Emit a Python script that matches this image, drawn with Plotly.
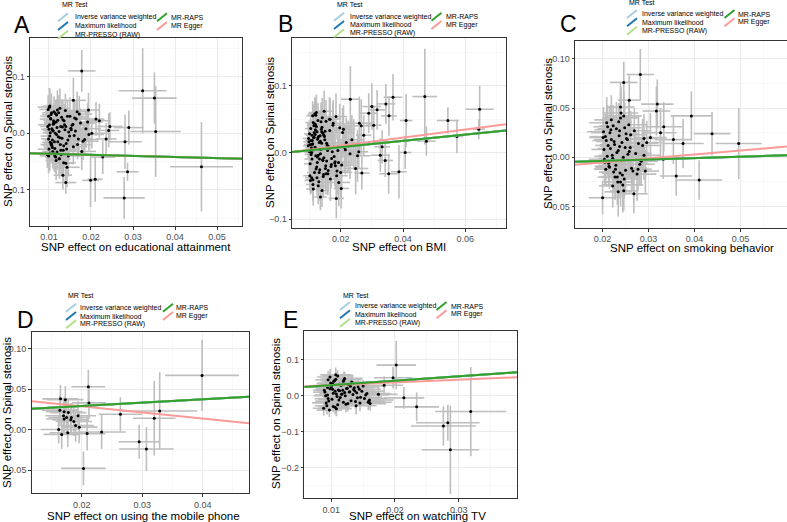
import plotly.graph_objects as go

W, H = 787, 522
FONT = "Liberation Sans, Arial, sans-serif"

# ---------------- data ----------------
# Panel A: educational attainment
a_x = [0.0178, 0.0323, 0.0351, 0.0354, 0.0290, 0.0281, 0.0287, 0.0279, 0.0463, 0.0245,
       0.0140, 0.0133, 0.0199, 0.0210, 0.0158, 0.0167, 0.0194, 0.0140, 0.0102, 0.0228,
       0.0242, 0.0236, 0.0220, 0.0212,
       0.0097, 0.0102, 0.0099, 0.0105, 0.0110, 0.0101, 0.0108, 0.0113, 0.0096, 0.0104,
       0.0118, 0.0107, 0.0100, 0.0115, 0.0121, 0.0103, 0.0111, 0.0126, 0.0098, 0.0109,
       0.0119, 0.0130, 0.0106, 0.0114, 0.0101, 0.0124, 0.0135, 0.0112, 0.0099, 0.0117,
       0.0128, 0.0105, 0.0140, 0.0122, 0.0108, 0.0133, 0.0115, 0.0102, 0.0145, 0.0120,
       0.0110, 0.0127, 0.0138, 0.0104, 0.0116, 0.0150, 0.0131, 0.0109, 0.0123, 0.0142,
       0.0155, 0.0113, 0.0136, 0.0100, 0.0119, 0.0147, 0.0126, 0.0160, 0.0107, 0.0132,
       0.0165, 0.0118, 0.0141, 0.0152, 0.0111, 0.0129, 0.0170, 0.0137, 0.0103, 0.0158,
       0.0175, 0.0125, 0.0144, 0.0114, 0.0163, 0.0181, 0.0134, 0.0121, 0.0149, 0.0188,
       0.0106, 0.0168, 0.0139, 0.0195, 0.0117, 0.0157, 0.0128, 0.0178, 0.0146, 0.0202,
       0.0112, 0.0172, 0.0185, 0.0135, 0.0161, 0.0099, 0.0192, 0.0124, 0.0153, 0.0143]
a_y = [0.110, 0.075, 0.062, 0.003, 0.010, -0.015, -0.068, -0.114, -0.059, 0.012,
       -0.087, -0.074, -0.083, -0.081, 0.058, 0.038, 0.041, -0.053, 0.048, -0.042,
       0.005, -0.010, 0.022, 0.025,
       0.012, -0.005, 0.030, -0.020, 0.004, 0.046, -0.012, 0.018, -0.038, 0.025,
       -0.002, 0.008, -0.028, 0.035, -0.015, 0.001, 0.022, -0.008, 0.042, -0.032,
       0.010, 0.028, -0.018, -0.040, 0.015, 0.003, -0.022, 0.038, -0.010, 0.020,
       -0.030, 0.033, 0.012, -0.006, -0.025, 0.024, 0.000, -0.035, -0.012, 0.041,
       0.016, -0.020, 0.006, 0.026, -0.042, 0.030, -0.009, 0.005, 0.036, -0.028,
       0.014, -0.015, 0.022, 0.007, -0.033, 0.002, 0.044, -0.004, -0.022, 0.011,
       0.025, 0.032, -0.018, 0.009, 0.019, -0.038, -0.010, 0.015, -0.016, -0.024,
       0.018, -0.045, 0.030, -0.027, 0.004, -0.014, -0.030, 0.023, -0.005, 0.008,
       0.036, -0.020, 0.040, -0.002, -0.048, 0.016, 0.012, -0.032, -0.040, 0.000,
       -0.036, 0.034, -0.011, -0.052, 0.027, -0.040, 0.020, -0.045, 0.006, -0.060]
a_sx = [0.0033, 0.0057, 0.0053, 0.0060, 0.0035, 0.0040, 0.0026, 0.0049, 0.0075, 0.0030,
        0.0025, 0.0022, 0.0020, 0.0018, 0.0030, 0.0030, 0.0025, 0.0020, 0.0015, 0.0030,
        0.0025, 0.0025, 0.0025, 0.0020,
        0.0018, 0.0022, 0.0020, 0.0025, 0.0019, 0.0028, 0.0021, 0.0024, 0.0017, 0.0026,
        0.0023, 0.0020, 0.0027, 0.0022, 0.0030, 0.0018, 0.0024, 0.0029, 0.0021, 0.0025,
        0.0026, 0.0031, 0.0019, 0.0023, 0.0027, 0.0028, 0.0032, 0.0022, 0.0018, 0.0025,
        0.0029, 0.0021, 0.0033, 0.0026, 0.0020, 0.0030, 0.0024, 0.0019, 0.0034, 0.0027,
        0.0022, 0.0028, 0.0031, 0.0020, 0.0025, 0.0035, 0.0029, 0.0023, 0.0026, 0.0032,
        0.0036, 0.0021, 0.0030, 0.0019, 0.0027, 0.0033, 0.0024, 0.0037, 0.0022, 0.0028,
        0.0034, 0.0025, 0.0031, 0.0036, 0.0023, 0.0029, 0.0035, 0.0030, 0.0020, 0.0033,
        0.0036, 0.0026, 0.0032, 0.0024, 0.0034, 0.0037, 0.0030, 0.0027, 0.0031, 0.0035,
        0.0022, 0.0033, 0.0029, 0.0036, 0.0025, 0.0032, 0.0028, 0.0034, 0.0030, 0.0038,
        0.0023, 0.0031, 0.0035, 0.0029, 0.0033, 0.0021, 0.0036, 0.0027, 0.0032, 0.0030]
a_sy = [0.037, 0.075, 0.045, 0.080, 0.030, 0.048, 0.016, 0.037, 0.079, 0.025,
        0.020, 0.025, 0.047, 0.040, 0.040, 0.035, 0.030, 0.035, 0.030, 0.030,
        0.030, 0.028, 0.030, 0.030,
        0.022, 0.028, 0.025, 0.031, 0.020, 0.034, 0.026, 0.029, 0.023, 0.032,
        0.027, 0.021, 0.030, 0.024, 0.033, 0.019, 0.028, 0.035, 0.025, 0.030,
        0.026, 0.032, 0.022, 0.029, 0.024, 0.031, 0.036, 0.027, 0.021, 0.028,
        0.033, 0.025, 0.030, 0.023, 0.029, 0.034, 0.026, 0.031, 0.028, 0.035,
        0.024, 0.030, 0.027, 0.032, 0.029, 0.033, 0.025, 0.022, 0.031, 0.034,
        0.028, 0.026, 0.030, 0.023, 0.032, 0.027, 0.035, 0.029, 0.024, 0.031,
        0.033, 0.028, 0.026, 0.030, 0.025, 0.034, 0.027, 0.032, 0.029, 0.031,
        0.026, 0.036, 0.028, 0.030, 0.024, 0.033, 0.031, 0.027, 0.029, 0.032,
        0.034, 0.026, 0.030, 0.028, 0.035, 0.025, 0.031, 0.033, 0.036, 0.027,
        0.030, 0.032, 0.028, 0.034, 0.029, 0.031, 0.033, 0.030, 0.027, 0.035]

# Panel B: BMI
b_x = [0.0231, 0.0368, 0.0470, 0.0410, 0.0544, 0.0646, 0.0643, 0.0573, 0.0475, 0.0407,
       0.0387, 0.0354, 0.0343, 0.0317, 0.0300, 0.0290, 0.0274, 0.0333, 0.0327, 0.0306,
       0.0202, 0.0186, 0.0135, 0.0140, 0.0268, 0.0258, 0.0345, 0.0355,
       0.0102, 0.0108, 0.0115, 0.0099, 0.0121, 0.0112, 0.0105, 0.0128, 0.0118, 0.0101,
       0.0134, 0.0110, 0.0125, 0.0096, 0.0140, 0.0116, 0.0107, 0.0131, 0.0122, 0.0146,
       0.0113, 0.0103, 0.0137, 0.0119, 0.0152, 0.0127, 0.0109, 0.0143, 0.0100, 0.0158,
       0.0124, 0.0114, 0.0149, 0.0133, 0.0106, 0.0164, 0.0120, 0.0139, 0.0111, 0.0155,
       0.0170, 0.0129, 0.0104, 0.0145, 0.0117, 0.0161, 0.0135, 0.0176, 0.0123, 0.0098,
       0.0150, 0.0182, 0.0113, 0.0141, 0.0167, 0.0126, 0.0108, 0.0188, 0.0157, 0.0132,
       0.0119, 0.0173, 0.0147, 0.0194, 0.0102, 0.0138, 0.0163, 0.0115, 0.0200, 0.0128,
       0.0153, 0.0179, 0.0110, 0.0144, 0.0206, 0.0122, 0.0169, 0.0135, 0.0105, 0.0185,
       0.0212, 0.0159, 0.0118, 0.0142, 0.0175, 0.0130, 0.0218, 0.0097, 0.0151, 0.0191,
       0.0125, 0.0165, 0.0224, 0.0112, 0.0137, 0.0181, 0.0148, 0.0230, 0.0107, 0.0197,
       0.0133, 0.0160, 0.0120, 0.0236, 0.0171, 0.0143, 0.0203, 0.0116, 0.0155, 0.0242,
       0.0127, 0.0187, 0.0101, 0.0166, 0.0248, 0.0139, 0.0209, 0.0111, 0.0177, 0.0254,
       0.0124, 0.0193, 0.0146, 0.0260, 0.0131, 0.0215, 0.0109, 0.0183, 0.0266, 0.0153]
b_y = [0.080, 0.083, 0.084, 0.048, 0.048, 0.065, 0.035, 0.024, 0.017, 0.000,
       -0.029, -0.032, -0.012, 0.064, 0.069, 0.059, 0.026, 0.0085, -0.004, 0.041,
       -0.054, -0.069, -0.067, -0.057, -0.031, 0.001, 0.073, 0.055,
       0.012, -0.010, 0.030, 0.002, -0.025, 0.045, 0.018, -0.004, 0.008, -0.035,
       0.025, 0.055, -0.015, 0.010, 0.038, -0.030, 0.000, 0.015, 0.060, -0.008,
       0.022, -0.042, 0.005, 0.034, -0.020, 0.048, 0.012, -0.012, 0.028, 0.003,
       -0.038, 0.040, 0.019, -0.026, 0.007, 0.050, -0.005, 0.031, -0.048, 0.014,
       -0.018, 0.024, 0.036, -0.033, 0.058, 0.009, -0.002, 0.044, -0.022, 0.016,
       0.032, -0.014, 0.004, 0.052, -0.040, 0.020, 0.026, -0.028, 0.011, -0.010,
       0.042, 0.001, 0.062, -0.045, -0.017, 0.035, 0.006, 0.023, -0.030, -0.050,
       0.047, -0.006, 0.013, -0.036, 0.030, 0.039, -0.021, 0.017, -0.003, 0.054,
       0.008, -0.032, 0.027, -0.011, 0.041, -0.044, 0.015, 0.021, -0.024, 0.003,
       -0.007, 0.033, 0.010, -0.055, 0.046, -0.016, 0.024, -0.002, -0.038, 0.037,
       0.005, -0.027, 0.056, 0.019, -0.009, 0.029, -0.019, 0.043, -0.013, 0.012,
       0.022, -0.035, 0.001, 0.050, -0.024, 0.014, 0.035, -0.041, 0.008, -0.005,
       0.031, -0.015, 0.026, 0.044, -0.030, 0.004, 0.018, -0.020, 0.040, -0.032]
b_sx = [0.0030, 0.0030, 0.0040, 0.0020, 0.0035, 0.0045, 0.0020, 0.0020, 0.0030, 0.0020,
        0.0025, 0.0030, 0.0025, 0.0025, 0.0030, 0.0030, 0.0025, 0.0025, 0.0030, 0.0025,
        0.0025, 0.0025, 0.0020, 0.0020, 0.0025, 0.0030, 0.0030, 0.0025,
        0.0020, 0.0024, 0.0018, 0.0027, 0.0022, 0.0025, 0.0019, 0.0029, 0.0023, 0.0021,
        0.0030, 0.0020, 0.0026, 0.0017, 0.0031, 0.0024, 0.0021, 0.0028, 0.0025, 0.0032,
        0.0022, 0.0019, 0.0029, 0.0026, 0.0033, 0.0027, 0.0020, 0.0030, 0.0018, 0.0034,
        0.0025, 0.0023, 0.0031, 0.0028, 0.0021, 0.0035, 0.0024, 0.0029, 0.0022, 0.0032,
        0.0036, 0.0027, 0.0019, 0.0030, 0.0023, 0.0033, 0.0028, 0.0035, 0.0025, 0.0018,
        0.0031, 0.0036, 0.0022, 0.0029, 0.0034, 0.0026, 0.0021, 0.0037, 0.0032, 0.0027,
        0.0024, 0.0035, 0.0030, 0.0036, 0.0020, 0.0028, 0.0033, 0.0023, 0.0037, 0.0026,
        0.0031, 0.0035, 0.0022, 0.0029, 0.0038, 0.0025, 0.0034, 0.0028, 0.0021, 0.0036,
        0.0038, 0.0032, 0.0024, 0.0029, 0.0035, 0.0027, 0.0039, 0.0019, 0.0031, 0.0037,
        0.0026, 0.0033, 0.0039, 0.0023, 0.0028, 0.0036, 0.0030, 0.0040, 0.0021, 0.0037,
        0.0027, 0.0032, 0.0025, 0.0040, 0.0034, 0.0029, 0.0038, 0.0024, 0.0031, 0.0041,
        0.0026, 0.0036, 0.0020, 0.0033, 0.0041, 0.0028, 0.0038, 0.0022, 0.0035, 0.0042,
        0.0025, 0.0037, 0.0030, 0.0042, 0.0027, 0.0039, 0.0021, 0.0036, 0.0043, 0.0031]
b_sy = [0.050, 0.035, 0.072, 0.040, 0.020, 0.035, 0.015, 0.025, 0.022, 0.025,
        0.040, 0.030, 0.025, 0.030, 0.035, 0.030, 0.030, 0.025, 0.025, 0.030,
        0.030, 0.030, 0.020, 0.025, 0.025, 0.025, 0.030, 0.030,
        0.022, 0.026, 0.020, 0.029, 0.024, 0.027, 0.021, 0.031, 0.025, 0.023,
        0.030, 0.022, 0.028, 0.019, 0.032, 0.026, 0.023, 0.029, 0.027, 0.033,
        0.024, 0.021, 0.030, 0.028, 0.034, 0.026, 0.022, 0.031, 0.020, 0.035,
        0.027, 0.025, 0.032, 0.029, 0.023, 0.033, 0.026, 0.030, 0.024, 0.031,
        0.034, 0.028, 0.021, 0.032, 0.025, 0.033, 0.029, 0.035, 0.027, 0.020,
        0.031, 0.034, 0.024, 0.030, 0.033, 0.028, 0.023, 0.035, 0.032, 0.029,
        0.026, 0.034, 0.031, 0.036, 0.022, 0.030, 0.033, 0.025, 0.036, 0.028,
        0.032, 0.034, 0.024, 0.031, 0.037, 0.027, 0.033, 0.029, 0.023, 0.035,
        0.036, 0.032, 0.026, 0.030, 0.034, 0.028, 0.037, 0.021, 0.031, 0.035,
        0.027, 0.033, 0.038, 0.025, 0.029, 0.034, 0.031, 0.038, 0.023, 0.036,
        0.028, 0.032, 0.026, 0.037, 0.033, 0.030, 0.036, 0.025, 0.031, 0.038,
        0.027, 0.035, 0.022, 0.032, 0.039, 0.029, 0.036, 0.024, 0.034, 0.039,
        0.026, 0.035, 0.030, 0.040, 0.028, 0.037, 0.023, 0.034, 0.040, 0.031]

# Panel C: smoking behavior
c_x = [0.0282, 0.0246, 0.0258, 0.0239, 0.0319, 0.0317, 0.0333, 0.0393, 0.0438, 0.0496,
       0.0354, 0.0375, 0.0304, 0.0290, 0.0326, 0.0332, 0.0360, 0.0410, 0.0293, 0.0277,
       0.0268, 0.0234, 0.0239, 0.0222, 0.0200, 0.0246,
       0.0201, 0.0205, 0.0212, 0.0218, 0.0224, 0.0209, 0.0231, 0.0236, 0.0215, 0.0242,
       0.0203, 0.0227, 0.0248, 0.0221, 0.0239, 0.0207, 0.0254, 0.0233, 0.0216, 0.0245,
       0.0260, 0.0211, 0.0229, 0.0251, 0.0204, 0.0237, 0.0266, 0.0219, 0.0243, 0.0225,
       0.0272, 0.0213, 0.0257, 0.0234, 0.0202, 0.0247, 0.0278, 0.0222, 0.0240, 0.0263,
       0.0208, 0.0230, 0.0284, 0.0252, 0.0217, 0.0238, 0.0269, 0.0226, 0.0244, 0.0290,
       0.0214, 0.0258, 0.0235, 0.0206, 0.0275, 0.0249, 0.0223, 0.0241, 0.0296, 0.0228,
       0.0261, 0.0210, 0.0246, 0.0281, 0.0232, 0.0219, 0.0255, 0.0287, 0.0237, 0.0250]
c_y = [0.084, 0.076, 0.058, 0.051, 0.054, 0.047, 0.031, 0.042, 0.024, 0.014,
       0.018, 0.014, 0.020, 0.019, 0.025, -0.002, -0.019, -0.023, -0.014, -0.012,
       -0.037, -0.035, -0.025, -0.029, -0.041, -0.034,
       0.020, -0.005, 0.012, 0.028, -0.015, 0.035, 0.005, 0.022, -0.010, 0.015,
       0.008, -0.020, 0.030, 0.002, 0.040, -0.012, 0.018, -0.025, 0.025, 0.000,
       0.010, 0.031, -0.008, 0.024, -0.002, 0.011, -0.014, 0.038, -0.018, 0.016,
       0.004, -0.006, 0.033, 0.007, 0.026, -0.022, 0.014, -0.001, 0.045, -0.011,
       0.017, 0.029, -0.004, 0.019, 0.009, -0.016, 0.027, 0.013, -0.028, 0.002,
       -0.009, 0.006, 0.036, 0.021, -0.017, 0.010, 0.032, -0.003, 0.015, -0.012,
       0.023, 0.001, 0.042, -0.007, -0.020, 0.018, 0.003, 0.012, 0.027, -0.013]
c_sx = [0.0030, 0.0030, 0.0025, 0.0030, 0.0035, 0.0030, 0.0040, 0.0045, 0.0040, 0.0050,
        0.0040, 0.0045, 0.0035, 0.0030, 0.0035, 0.0030, 0.0035, 0.0050, 0.0030, 0.0030,
        0.0030, 0.0030, 0.0030, 0.0030, 0.0030, 0.0030,
        0.0030, 0.0034, 0.0028, 0.0036, 0.0032, 0.0038, 0.0029, 0.0035, 0.0031, 0.0040,
        0.0027, 0.0033, 0.0037, 0.0030, 0.0039, 0.0026, 0.0035, 0.0032, 0.0041, 0.0029,
        0.0036, 0.0031, 0.0038, 0.0028, 0.0034, 0.0042, 0.0030, 0.0037, 0.0033, 0.0039,
        0.0035, 0.0027, 0.0040, 0.0032, 0.0036, 0.0029, 0.0043, 0.0031, 0.0038, 0.0034,
        0.0030, 0.0041, 0.0036, 0.0033, 0.0028, 0.0039, 0.0035, 0.0032, 0.0044, 0.0037,
        0.0031, 0.0038, 0.0029, 0.0034, 0.0042, 0.0036, 0.0030, 0.0040, 0.0033, 0.0045,
        0.0035, 0.0028, 0.0039, 0.0032, 0.0043, 0.0037, 0.0031, 0.0041, 0.0034, 0.0038]
c_sy = [0.026, 0.021, 0.025, 0.025, 0.025, 0.025, 0.025, 0.025, 0.022, 0.036,
        0.025, 0.025, 0.025, 0.025, 0.025, 0.020, 0.020, 0.020, 0.022, 0.022,
        0.020, 0.025, 0.025, 0.022, 0.017, 0.020,
        0.020, 0.023, 0.018, 0.025, 0.021, 0.026, 0.019, 0.024, 0.022, 0.027,
        0.018, 0.023, 0.025, 0.020, 0.026, 0.017, 0.024, 0.021, 0.027, 0.019,
        0.025, 0.022, 0.026, 0.018, 0.023, 0.028, 0.020, 0.025, 0.022, 0.027,
        0.024, 0.019, 0.026, 0.021, 0.025, 0.020, 0.028, 0.022, 0.026, 0.023,
        0.021, 0.027, 0.024, 0.022, 0.019, 0.026, 0.023, 0.021, 0.028, 0.025,
        0.020, 0.026, 0.019, 0.023, 0.027, 0.024, 0.021, 0.026, 0.022, 0.029,
        0.024, 0.019, 0.025, 0.022, 0.028, 0.024, 0.021, 0.027, 0.023, 0.025]

# Panel D: using the mobile phone
d_x = [0.0399, 0.0211, 0.0212, 0.0329, 0.0320, 0.0264, 0.0295, 0.0307, 0.0203, 0.0233,
       0.0209, 0.0196, 0.0194, 0.0187, 0.0190, 0.0182, 0.0178, 0.0175, 0.0171, 0.0171,
       0.0164, 0.0170, 0.0165, 0.0173, 0.0162, 0.0167, 0.0177, 0.0183]
d_y = [0.067, 0.053, 0.033, 0.023, 0.014, 0.019, -0.015, -0.024, -0.048, -0.003,
       -0.005, 0.003, 0.017, 0.010, 0.005, 0.012, 0.021, 0.015, 0.013, 0.022,
       0.024, 0.017, 0.038, 0.037, 0.000, -0.006, -0.004, 0.015]
d_sx = [0.0061, 0.0028, 0.0028, 0.0062, 0.0035, 0.0036, 0.0034, 0.0045, 0.0037, 0.0040,
        0.0030, 0.0030, 0.0030, 0.0030, 0.0030, 0.0030, 0.0030, 0.0030, 0.0030, 0.0030,
        0.0030, 0.0030, 0.0030, 0.0030, 0.0030, 0.0030, 0.0030, 0.0030]
d_sy = [0.044, 0.021, 0.020, 0.048, 0.046, 0.021, 0.021, 0.027, 0.021, 0.021,
        0.021, 0.020, 0.018, 0.018, 0.020, 0.018, 0.018, 0.020, 0.018, 0.018,
        0.018, 0.020, 0.017, 0.017, 0.017, 0.018, 0.018, 0.018]

# Panel E: watching TV
e_x = [0.0202, 0.0197, 0.0183, 0.0174, 0.0214, 0.0234, 0.0276, 0.0283, 0.0287, 0.0319,
       0.0159, 0.0161,
       0.0090, 0.0095, 0.0100, 0.0104, 0.0092, 0.0108, 0.0098, 0.0112, 0.0102, 0.0116,
       0.0088, 0.0106, 0.0120, 0.0094, 0.0110, 0.0124, 0.0099, 0.0114, 0.0128, 0.0091,
       0.0103, 0.0118, 0.0132, 0.0096, 0.0107, 0.0122, 0.0136, 0.0101, 0.0113, 0.0140,
       0.0089, 0.0126, 0.0105, 0.0117, 0.0144, 0.0097, 0.0130, 0.0109, 0.0148, 0.0121,
       0.0093, 0.0134, 0.0111, 0.0152, 0.0100, 0.0125, 0.0138, 0.0115, 0.0156, 0.0106,
       0.0129, 0.0142, 0.0095, 0.0119, 0.0160, 0.0103, 0.0133, 0.0146, 0.0110, 0.0123,
       0.0091, 0.0137, 0.0150, 0.0108, 0.0127, 0.0098, 0.0141, 0.0119, 0.0154, 0.0113,
       0.0131, 0.0102, 0.0145, 0.0094, 0.0121, 0.0139, 0.0107, 0.0158, 0.0116, 0.0135]
e_y = [0.085, 0.050, 0.029, 0.004, -0.006, -0.031, -0.084, -0.075, -0.150, -0.044,
       -0.015, -0.022,
       0.010, -0.008, 0.025, 0.040, -0.020, 0.005, 0.052, -0.012, 0.018, 0.030,
       -0.035, 0.012, 0.045, 0.002, -0.025, 0.020, 0.035, -0.005, 0.010, 0.028,
       -0.030, 0.015, 0.038, -0.015, 0.058, 0.000, 0.022, -0.010, 0.032, 0.008,
       0.015, -0.022, 0.042, 0.005, 0.018, -0.040, 0.026, -0.002, 0.012, 0.048,
       -0.028, 0.003, 0.016, -0.008, 0.034, 0.021, -0.016, 0.029, 0.006, -0.032,
       0.011, 0.024, 0.044, -0.018, -0.012, 0.007, 0.036, -0.004, 0.055, -0.024,
       0.000, 0.013, 0.027, -0.036, 0.031, 0.019, -0.006, 0.040, 0.002, 0.014,
       -0.014, 0.033, -0.020, 0.023, 0.009, -0.028, 0.046, -0.018, 0.004, 0.017]
e_sx = [0.0031, 0.0030, 0.0030, 0.0030, 0.0032, 0.0035, 0.0051, 0.0050, 0.0045, 0.0056,
        0.0025, 0.0025,
        0.0018, 0.0021, 0.0024, 0.0019, 0.0022, 0.0026, 0.0020, 0.0023, 0.0027, 0.0021,
        0.0017, 0.0025, 0.0028, 0.0020, 0.0023, 0.0029, 0.0022, 0.0026, 0.0030, 0.0019,
        0.0024, 0.0027, 0.0031, 0.0021, 0.0025, 0.0028, 0.0032, 0.0022, 0.0026, 0.0033,
        0.0018, 0.0029, 0.0023, 0.0027, 0.0034, 0.0020, 0.0030, 0.0024, 0.0035, 0.0028,
        0.0019, 0.0031, 0.0025, 0.0036, 0.0021, 0.0029, 0.0032, 0.0026, 0.0037, 0.0023,
        0.0030, 0.0033, 0.0020, 0.0027, 0.0038, 0.0022, 0.0031, 0.0034, 0.0025, 0.0028,
        0.0019, 0.0032, 0.0035, 0.0024, 0.0029, 0.0021, 0.0033, 0.0027, 0.0036, 0.0026,
        0.0030, 0.0022, 0.0034, 0.0020, 0.0028, 0.0032, 0.0024, 0.0037, 0.0027, 0.0031]
e_sy = [0.067, 0.030, 0.025, 0.025, 0.030, 0.040, 0.055, 0.050, 0.123, 0.124,
        0.020, 0.020,
        0.018, 0.021, 0.016, 0.020, 0.023, 0.017, 0.022, 0.019, 0.024, 0.018,
        0.021, 0.016, 0.023, 0.020, 0.018, 0.022, 0.017, 0.024, 0.019, 0.021,
        0.016, 0.023, 0.018, 0.022, 0.020, 0.025, 0.017, 0.021, 0.019, 0.024,
        0.018, 0.022, 0.016, 0.020, 0.023, 0.019, 0.025, 0.017, 0.021, 0.018,
        0.024, 0.020, 0.022, 0.016, 0.023, 0.019, 0.021, 0.018, 0.025, 0.020,
        0.017, 0.022, 0.024, 0.019, 0.021, 0.018, 0.023, 0.020, 0.016, 0.022,
        0.019, 0.024, 0.017, 0.021, 0.023, 0.018, 0.020, 0.022, 0.019, 0.025,
        0.017, 0.021, 0.023, 0.018, 0.020, 0.024, 0.019, 0.022, 0.016, 0.021]

# MR methods (order: IVW, ML, MR-PRESSO, MR-RAPS, MR Egger)
methods = ["Inverse variance weighted", "Maximum likelihood", "MR-PRESSO (RAW)", "MR-RAPS", "MR Egger"]
method_colors = ["#A6CEE3", "#1F78B4", "#B2DF8A", "#33A02C", "#FB9A99"]
a_slope = [-0.188, -0.188, -0.188, -0.188, -0.188]
a_icpt = [-0.0343, -0.0343, -0.0343, -0.0343, -0.0343]
b_slope = [0.466, 0.466, 0.466, 0.466, 0.606]
b_icpt = [-0.0012, -0.0012, -0.0012, -0.0012, -0.0019]
c_slope = [0.141, 0.141, 0.141, 0.141, 0.398]
c_icpt = [-0.0064, -0.0064, -0.0064, -0.0064, -0.0130]
d_slope = [0.415, 0.415, 0.415, 0.415, -0.757]
d_icpt = [0.0209, 0.0209, 0.0209, 0.0209, 0.0439]
e_slope = [1.22, 1.22, 1.22, 1.22, 0.75]
e_icpt = [0.0172, 0.0172, 0.0172, 0.0172, 0.0217]

# axis titles
x_titles = ["SNP effect on educational attainment", "SNP effect on BMI", "SNP effect on smoking behavior",
            "SNP effect on using the mobile phone", "SNP effect on watching TV"]
y_title = "SNP effect on Spinal stenosis"
panel_letters = ["A", "B", "C", "D", "E"]

# ---------------- layout helpers (pixel geometry) ----------------
def px(x):
    return x / W

def py(y):
    return 1 - y / H

panels = [
    dict(data=(a_x, a_y, a_sx, a_sy), slope=a_slope, icpt=a_icpt,
         box=(30, 242, 38, 226), xr=[0.00548, 0.05595], yr=[-0.1636, 0.168],
         xt=[0.01, 0.02, 0.03, 0.04, 0.05], xf=".2f", xm=[0.005, 0.015, 0.025, 0.035, 0.045, 0.055],
         yt=[-0.1, 0.0, 0.1], yf=".1f", ym=[-0.15, -0.05, 0.05, 0.15],
         letter=(22, 25), xtitle=(136, 247), ytitle=(8, 132),
         leg=dict(title=(60, 5), rows=[17.3, 26, 34.7], k1=57, t1=72.7, k2=156, t2=169)),
    dict(data=(b_x, b_y, b_sx, b_sy), slope=b_slope, icpt=b_icpt,
         box=(292, 506, 38, 228), xr=[0.00438, 0.07305], yr=[-0.1135, 0.172],
         xt=[0.02, 0.04, 0.06], xf=".2f", xm=[0.01, 0.03, 0.05, 0.07],
         yt=[-0.1, 0.0, 0.1], yf=".1f", ym=[-0.05, 0.05, 0.15],
         letter=(285, 24), xtitle=(399, 247), ytitle=(270, 133),
         leg=dict(title=(334.7, 5), rows=[16.7, 25, 33.3], k1=333, t1=347.7, k2=430.5, t2=444.3)),
    dict(data=(c_x, c_y, c_sx, c_sy), slope=c_slope, icpt=c_icpt,
         box=(575, 788, 41, 228), xr=[0.0140, 0.0601], yr=[-0.0717, 0.118],
         xt=[0.02, 0.03, 0.04, 0.05], xf=".2f", xm=[0.015, 0.025, 0.035, 0.045, 0.055],
         yt=[-0.05, 0.0, 0.05, 0.10], yf=".2f", ym=[-0.075, -0.025, 0.025, 0.075, 0.125],
         letter=(568, 24), xtitle=(692, 248), ytitle=(548, 134),
         leg=dict(title=(627.3, 2), rows=[14, 22.3, 30.7], k1=626, t1=639.7, k2=723.5, t2=736)),
    dict(data=(d_x, d_y, d_sx, d_sy), slope=d_slope, icpt=d_icpt,
         box=(31.7, 249, 331.7, 493.3), xr=[0.01174, 0.04766], yr=[-0.0788, 0.121],
         xt=[0.02, 0.03, 0.04], xf=".2f", xm=[0.015, 0.025, 0.035, 0.045],
         yt=[-0.05, 0.0, 0.05, 0.10], yf=".2f", ym=[-0.075, -0.025, 0.025, 0.075],
         letter=(25, 320), xtitle=(143.7, 516), ytitle=(7, 413),
         leg=dict(title=(65.7, 295.7), rows=[307.7, 316, 324.3], k1=65, t1=77.7, k2=162, t2=174.3)),
    dict(data=(e_x, e_y, e_sx, e_sy), slope=e_slope, icpt=e_icpt,
         box=(304.3, 517, 331, 498.3), xr=[0.00576, 0.03916], yr=[-0.285, 0.1797],
         xt=[0.01, 0.02, 0.03], xf=".2f", xm=[0.005, 0.015, 0.025, 0.035],
         yt=[-0.2, -0.1, 0.0, 0.1], yf=".1f", ym=[-0.25, -0.15, -0.05, 0.05, 0.15],
         letter=(290, 320), xtitle=(418, 516), ytitle=(276, 414),
         leg=dict(title=(341, 295.3), rows=[306, 314.3, 322.7], k1=339, t1=352.7, k2=435.5, t2=449.3)),
]

fig = go.Figure()
annotations = []
shapes = []
layout_axes = {}

draw_order = [0, 1, 2, 4, 3]  # Egger below RAPS
legend_slots = [(0, 0), (0, 1), (0, 2), (1, 0), (1, 1)]  # (col,row) for each method

for i, p in enumerate(panels):
    n = i + 1
    xa = "x" if n == 1 else f"x{n}"
    ya = "y" if n == 1 else f"y{n}"
    bx, by, sx, sy = p["data"]
    assert len(bx) == len(by) == len(sx) == len(sy), (i, len(bx), len(by), len(sx), len(sy))

    fig.add_trace(go.Scatter(
        x=bx, y=by, mode="markers", xaxis=xa, yaxis=ya, showlegend=False,
        marker=dict(color="black", size=3),
        error_x=dict(type="data", array=sx, color="#BEBEBE", thickness=1.6, width=0),
        error_y=dict(type="data", array=sy, color="#BEBEBE", thickness=1.6, width=0),
        cliponaxis=True, hoverinfo="skip",
    ))
    for m in draw_order:
        xs = p["xr"]
        ys = [p["icpt"][m] + p["slope"][m] * v for v in xs]
        fig.add_trace(go.Scatter(
            x=xs, y=ys, mode="lines", xaxis=xa, yaxis=ya, showlegend=False,
            line=dict(color=method_colors[m], width=2), hoverinfo="skip",
        ))

    x0, x1, y0, y1 = p["box"]
    common = dict(
        showline=True, mirror=True, linecolor="#333333", linewidth=1,
        ticks="outside", ticklen=2.5, tickwidth=1, tickcolor="#333333",
        tickfont=dict(family=FONT, size=9, color="#4D4D4D"),
        showgrid=True, gridcolor="#EBEBEB", gridwidth=1, zeroline=False,
        tickmode="array", automargin=False,
    )
    layout_axes["xaxis" if n == 1 else f"xaxis{n}"] = dict(
        common, domain=[px(x0), min(px(x1), 1.0)], anchor=ya, range=p["xr"],
        tickvals=p["xt"], tickformat=p["xf"],
        minor=dict(tickmode="array", tickvals=p["xm"], showgrid=True, gridcolor="#F3F3F3", gridwidth=0.6, ticks=""),
    )
    layout_axes["yaxis" if n == 1 else f"yaxis{n}"] = dict(
        common, domain=[py(y1), py(y0)], anchor=xa, range=p["yr"],
        tickvals=p["yt"], tickformat=p["yf"],
        minor=dict(tickmode="array", tickvals=p["ym"], showgrid=True, gridcolor="#F3F3F3", gridwidth=0.6, ticks=""),
    )

    # panel letter
    lx, ly = p["letter"]
    annotations.append(dict(x=px(lx), y=py(ly), xref="paper", yref="paper", text=panel_letters[i],
                            showarrow=False, xanchor="center", yanchor="middle",
                            font=dict(family=FONT, size=23, color="black")))
    # axis titles
    tx, ty = p["xtitle"]
    annotations.append(dict(x=px(tx), y=py(ty), xref="paper", yref="paper", text=x_titles[i],
                            showarrow=False, xanchor="center", yanchor="middle",
                            font=dict(family=FONT, size=11.5, color="black")))
    tx, ty = p["ytitle"]
    annotations.append(dict(x=px(tx), y=py(ty), xref="paper", yref="paper", text=y_title,
                            showarrow=False, xanchor="center", yanchor="middle", textangle=-90,
                            font=dict(family=FONT, size=11.5, color="black")))
    # legend
    lg = p["leg"]
    annotations.append(dict(x=px(lg["title"][0]), y=py(lg["title"][1]), xref="paper", yref="paper",
                            text="MR Test", showarrow=False, xanchor="left", yanchor="middle",
                            font=dict(family=FONT, size=7, color="black")))
    for m in range(5):
        col, row = legend_slots[m]
        ry = lg["rows"][row]
        kx = lg["k1"] if col == 0 else lg["k2"]
        tx = lg["t1"] if col == 0 else lg["t2"]
        shapes.append(dict(type="line", xref="paper", yref="paper",
                           x0=px(kx + 1), y0=py(ry + 4), x1=px(kx + 11), y1=py(ry - 4),
                           line=dict(color=method_colors[m], width=2)))
        annotations.append(dict(x=px(tx), y=py(ry), xref="paper", yref="paper", text=methods[m],
                                showarrow=False, xanchor="left", yanchor="middle",
                                font=dict(family=FONT, size=7, color="black")))

fig.update_layout(
    width=W, height=H, margin=dict(l=0, r=0, t=0, b=0, autoexpand=False),
    paper_bgcolor="white", plot_bgcolor="white",
    showlegend=False, annotations=annotations, shapes=shapes,
    font=dict(family=FONT), hovermode=False,
    **layout_axes,
)

fig.write_html("out.html",
               config={"displayModeBar": False, "staticPlot": True},
               post_script="document.body.style.margin='0';document.body.style.padding='0';"
                           "document.body.style.overflow='hidden';")
